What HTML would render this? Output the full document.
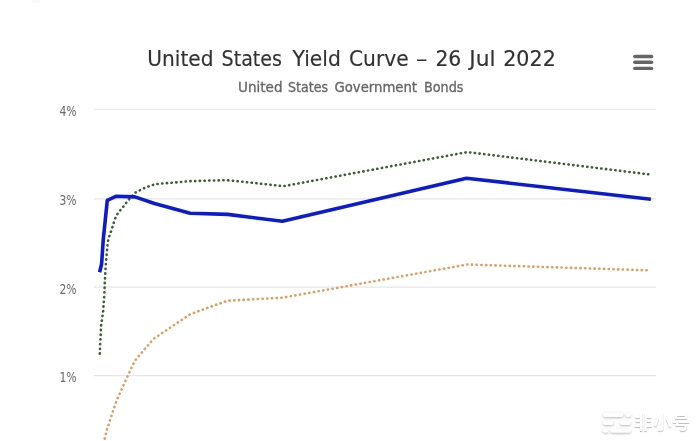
<!DOCTYPE html>
<html><head><meta charset="utf-8"><title>United States Yield Curve</title>
<style>
html,body{margin:0;padding:0;background:#fff;}
body{width:699px;height:441px;overflow:hidden;position:relative;}
svg{display:block;position:absolute;left:0;top:0;}
text{font-family:"DejaVu Sans Condensed","DejaVu Sans","Liberation Sans",sans-serif;}
.wm{position:absolute;left:600px;top:406px;width:99px;height:35px;filter:drop-shadow(0 1px 0.8px rgba(0,0,0,0.28));}
.wm svg{position:absolute;left:0;top:0;}
.wmt{position:absolute;left:634px;top:407.5px;font-family:"Liberation Sans","Noto Sans CJK SC",sans-serif;font-size:18.5px;line-height:30px;font-weight:bold;color:#fff;letter-spacing:0.4px;text-shadow:0 1px 1px rgba(0,0,0,0.28);white-space:nowrap;}
</style></head>
<body>
<svg width="699" height="441" viewBox="0 0 699 441">
<rect x="0" y="0" width="699" height="441" fill="#ffffff"/>
<rect x="32" y="0" width="8" height="3" fill="#f9f9f9"/>
<line x1="94" y1="109.25" x2="656" y2="109.25" stroke="#e6e6e6" stroke-width="1.2"/>
<line x1="94" y1="198.8" x2="656" y2="198.8" stroke="#e6e6e6" stroke-width="1.2"/>
<line x1="94" y1="287.2" x2="656" y2="287.2" stroke="#e6e6e6" stroke-width="1.2"/>
<line x1="94" y1="375.6" x2="656" y2="375.6" stroke="#e6e6e6" stroke-width="1.2"/>
<text x="147.24" y="65.5" font-family="DejaVu Sans, sans-serif" font-size="21.1" textLength="66.29" lengthAdjust="spacingAndGlyphs" fill="#333333" stroke="#333333" stroke-width="0.15">United</text>
<text x="221.60" y="65.5" font-family="DejaVu Sans, sans-serif" font-size="21.1" textLength="60.40" lengthAdjust="spacingAndGlyphs" fill="#333333" stroke="#333333" stroke-width="0.15">States</text>
<text x="292.56" y="65.5" font-family="DejaVu Sans, sans-serif" font-size="21.1" textLength="48.27" lengthAdjust="spacingAndGlyphs" fill="#333333" stroke="#333333" stroke-width="0.15">Yield</text>
<text x="348.94" y="65.5" font-family="DejaVu Sans, sans-serif" font-size="21.1" textLength="59.80" lengthAdjust="spacingAndGlyphs" fill="#333333" stroke="#333333" stroke-width="0.15">Curve</text>
<text x="416.02" y="65.5" font-family="DejaVu Sans, sans-serif" font-size="21.1" textLength="11.37" lengthAdjust="spacingAndGlyphs" fill="#333333" stroke="#333333" stroke-width="0.15">–</text>
<text x="435.44" y="65.5" font-family="DejaVu Sans, sans-serif" font-size="21.1" textLength="25.87" lengthAdjust="spacingAndGlyphs" fill="#333333" stroke="#333333" stroke-width="0.15">26</text>
<text x="469.36" y="65.5" font-family="DejaVu Sans, sans-serif" font-size="21.1" textLength="26.26" lengthAdjust="spacingAndGlyphs" fill="#333333" stroke="#333333" stroke-width="0.15">Jul</text>
<text x="503.22" y="65.5" font-family="DejaVu Sans, sans-serif" font-size="21.1" textLength="52.57" lengthAdjust="spacingAndGlyphs" fill="#333333" stroke="#333333" stroke-width="0.15">2022</text>
<text x="238.03" y="91.5" font-family="DejaVu Sans, sans-serif" font-size="14.0" textLength="44.53" lengthAdjust="spacingAndGlyphs" fill="#666666" stroke="#666666" stroke-width="0.3">United</text>
<text x="288.00" y="91.5" font-family="DejaVu Sans, sans-serif" font-size="14.0" textLength="40.07" lengthAdjust="spacingAndGlyphs" fill="#666666" stroke="#666666" stroke-width="0.3">States</text>
<text x="334.50" y="91.5" font-family="DejaVu Sans, sans-serif" font-size="14.0" textLength="82.52" lengthAdjust="spacingAndGlyphs" fill="#666666" stroke="#666666" stroke-width="0.3">Government</text>
<text x="423.99" y="91.5" font-family="DejaVu Sans, sans-serif" font-size="14.0" textLength="39.48" lengthAdjust="spacingAndGlyphs" fill="#666666" stroke="#666666" stroke-width="0.3">Bonds</text>
<text x="59.50" y="115.7" font-family="DejaVu Sans Condensed, sans-serif" font-size="13.8" textLength="17.12" lengthAdjust="spacingAndGlyphs" fill="#6e6e6e" stroke="#6e6e6e" stroke-width="0.05">4%</text>
<text x="59.50" y="205.2" font-family="DejaVu Sans Condensed, sans-serif" font-size="13.8" textLength="17.12" lengthAdjust="spacingAndGlyphs" fill="#6e6e6e" stroke="#6e6e6e" stroke-width="0.05">3%</text>
<text x="59.50" y="293.6" font-family="DejaVu Sans Condensed, sans-serif" font-size="13.8" textLength="17.12" lengthAdjust="spacingAndGlyphs" fill="#6e6e6e" stroke="#6e6e6e" stroke-width="0.05">2%</text>
<text x="59.43" y="381.7" font-family="DejaVu Sans Condensed, sans-serif" font-size="13.8" textLength="17.20" lengthAdjust="spacingAndGlyphs" fill="#6e6e6e" stroke="#6e6e6e" stroke-width="0.05">1%</text>
<line x1="634.8" y1="56.5" x2="651.6" y2="56.5" stroke="#666666" stroke-width="3.4" stroke-linecap="round"/>
<line x1="634.8" y1="62.3" x2="651.6" y2="62.3" stroke="#666666" stroke-width="3.4" stroke-linecap="round"/>
<line x1="634.8" y1="68.4" x2="651.6" y2="68.4" stroke="#666666" stroke-width="3.4" stroke-linecap="round"/>
<polyline points="101.5,462.0 103.5,445.0 104.4,439.8 106.6,430.7 108.2,425.9 111.0,417.1 114.1,407.8 117.4,398.7 121.3,390.1 125.2,381.4 129.2,372.8 133.1,364.4 135.3,360.3 138.4,356.4 141.4,353.0 145.0,348.5 148.0,345.4 151.1,341.7 154.3,338.3 190.3,314.2 227.0,300.8 283.3,297.6 467.0,264.5 650.7,270.4" fill="none" stroke="#e39d60" stroke-width="2.6" stroke-dasharray="0.3 4.42" stroke-linecap="round" stroke-linejoin="round"/>
<polyline points="99.8,353.7 100.2,344.0 100.7,334.4 101.1,325.0 101.8,320.4 102.5,315.6 103.2,310.7 103.8,301.1 104.3,296.0 104.8,282.2 105.3,272.7 105.9,263.1 106.7,253.6 107.2,248.8 107.6,244.4 108.2,240.0 109.7,234.9 111.3,230.5 112.8,225.9 114.1,221.5 115.9,216.8 117.3,214.2 118.1,212.8 121.3,209.1 124.4,205.3 127.1,201.6 130.3,197.8 135.3,192.6 141.3,189.5 145.6,187.6 150.2,185.8 154.7,184.4 159.6,183.7 169.1,183.0 178.8,182.2 188.4,181.2 207.5,180.6 226.6,180.2 231.4,180.6 240.9,181.6 283.6,186.2 467.2,152.1 650.7,174.6" fill="none" stroke="#3b5f33" stroke-width="2.6" stroke-dasharray="0.3 4.42" stroke-linecap="round" stroke-linejoin="round"/>
<polyline points="99.6,272.2 101.6,264.0 103.3,239.0 107.3,200.3 116.3,196.2 134.9,196.9 154.5,203.5 190.2,213.3 227.8,214.4 282.4,221.3 466.5,178.2 650.9,199.3" fill="none" stroke="#0c1ccc" stroke-width="3.6" stroke-linejoin="round" stroke-linecap="butt"/>
</svg>
<div class="wm"><svg width="40" height="35" viewBox="0 0 40 35"><g fill="#fff">
<rect x="3" y="6.5" width="20.5" height="4.6" rx="2.3"/><rect x="25.6" y="6.5" width="5.2" height="4.6" rx="2.3"/>
<rect x="3" y="14.5" width="10.6" height="4.6" rx="2.3"/><rect x="19.8" y="14.5" width="11" height="4.6" rx="2.3"/>
<rect x="3" y="22.8" width="5" height="4" rx="2"/><rect x="10.3" y="22.8" width="20.5" height="4" rx="2"/>
</g></svg></div>
<div class="wmt">非小号</div>
</body></html>
